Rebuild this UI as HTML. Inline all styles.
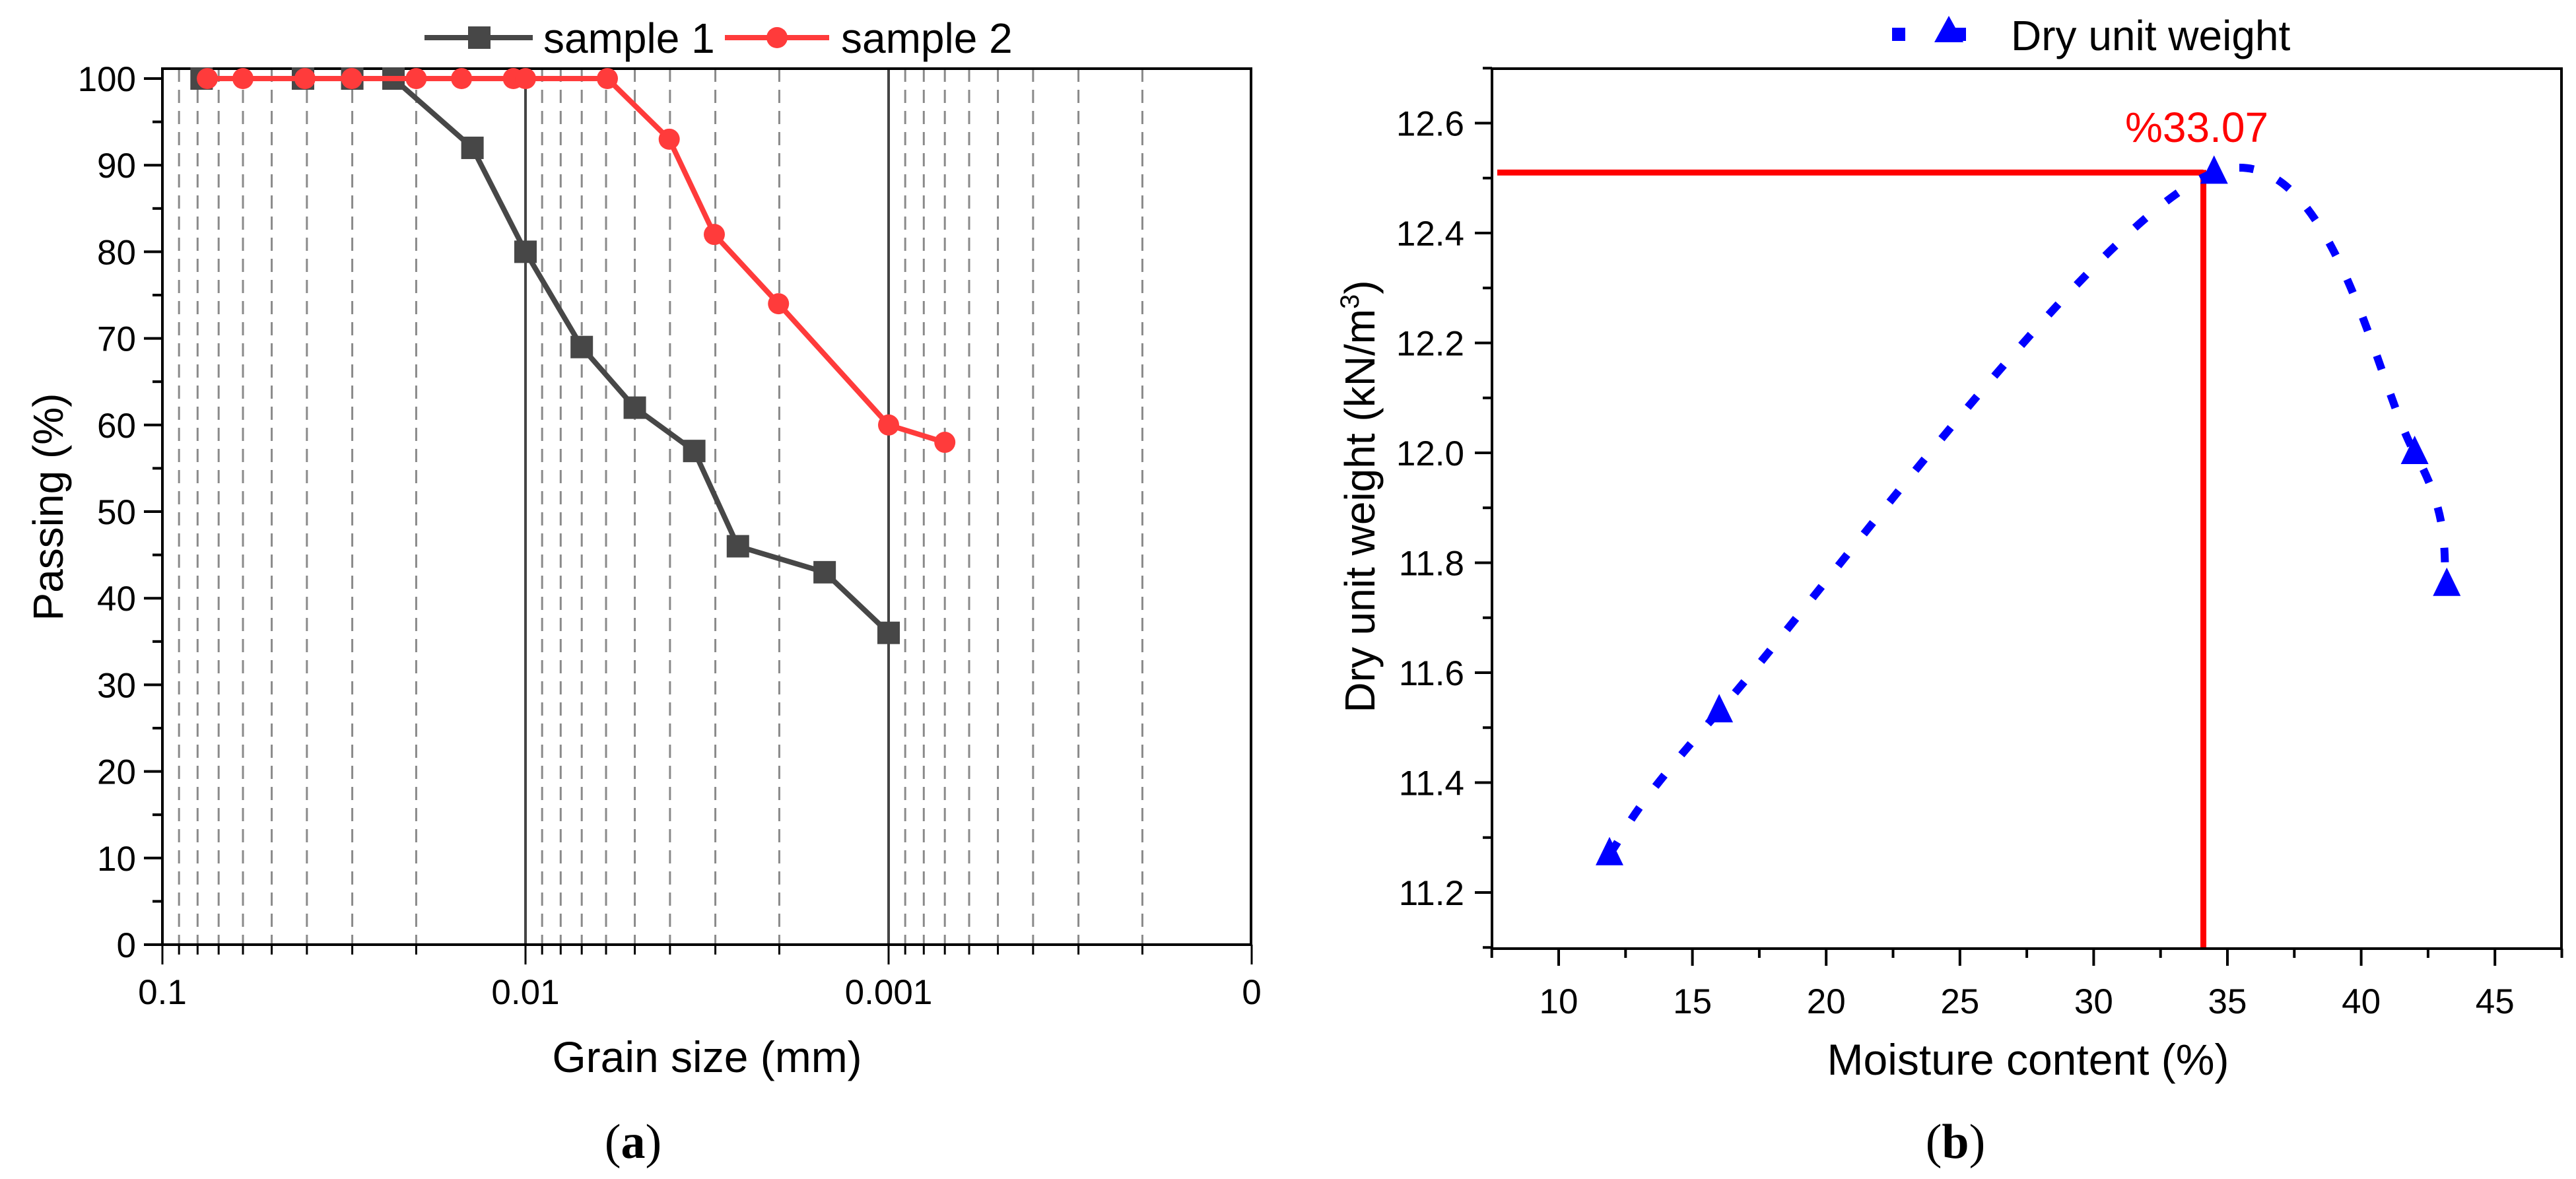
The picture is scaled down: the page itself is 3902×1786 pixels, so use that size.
<!DOCTYPE html>
<html><head><meta charset="utf-8"><style>
html,body{margin:0;padding:0;background:#fff;}
svg{display:block;font-family:"Liberation Sans",Arial,sans-serif;}
</style></head><body>
<svg id="fig" width="3902" height="1786" viewBox="0 0 3902 1786" xmlns="http://www.w3.org/2000/svg">
<g id="chartA"></g>
<g id="chartB"></g>
</svg>
<script>
// ---- Chart (a) data ----
const s1Size = [0.078, 0.041, 0.030, 0.0231, 0.014, 0.01, 0.007, 0.005, 0.00343, 0.0026, 0.0015, 0.001];
const s1Pass = [100, 100, 100, 100, 92, 80, 69, 62, 57, 46, 43, 36];
const s2Size = [0.0752, 0.06, 0.0405, 0.0301, 0.02, 0.015, 0.0108, 0.01, 0.00595, 0.00402, 0.00302, 0.00201, 0.001, 0.0007];
const s2Pass = [100, 100, 100, 100, 100, 100, 100, 100, 100, 93, 82, 74, 60, 58];
const aYTicks = [0, 10, 20, 30, 40, 50, 60, 70, 80, 90, 100];
const aXTicks = [0.1, 0.01, 0.001, 0.0001];
const aXLabels = ["0.1", "0.01", "0.001", "0"];
// ---- Chart (b) data ----
const moisture = [11.9, 16.0, 34.5, 42.0, 43.2];
const dryWeight = [11.27, 11.53, 12.51, 12.0, 11.76];
const bXTicks = [10, 15, 20, 25, 30, 35, 40, 45];
const bYTicks = [11.2, 11.4, 11.6, 11.8, 12.0, 12.2, 12.4, 12.6];
const optMoisture = [34.1];
const maxDry = [12.51];
const optLabel = ["%33.07"];

const NS = "http://www.w3.org/2000/svg";
function mk(parent, tag, attrs, text) {
  const e = document.createElementNS(NS, tag);
  for (const k in attrs) e.setAttribute(k, attrs[k]);
  if (text !== undefined) e.textContent = text;
  parent.appendChild(e);
  return e;
}

// ================= Chart (a) =================
const A = document.getElementById('chartA');
const aL = 246, aR = 1895, aT = 104, aB = 1431;
const xA = v => aL + 550 * Math.log10(0.1 / v);
const yA = p => aB - 13.12 * p;

for (let d = 0; d < 3; d++) {
  const base = 0.1 / Math.pow(10, d);
  for (let m = 9; m >= 2; m--) {
    const v = base * m / 10;
    const x = xA(v);
    const g = mk(A, 'line', {x1: x, x2: x, y1: aT, y2: aB, stroke: '#8a8a8a', 'stroke-width': 3, 'stroke-dasharray': '20 12'});
    
    
    const t = mk(A, 'line', {x1: x, x2: x, y1: aB, y2: aB + 15, stroke: '#000', 'stroke-width': 3});
    
    
  }
}
[0.01, 0.001].forEach(v => {
  const g = mk(A, 'line', {x1: xA(v), x2: xA(v), y1: aT, y2: aB, stroke: '#444', 'stroke-width': 4});
  
  
});
aYTicks.forEach(p => {
  const t = mk(A, 'line', {x1: aL - 28, x2: aL, y1: yA(p), y2: yA(p), stroke: '#000', 'stroke-width': 4});
  
  
  const l = mk(A, 'text', {x: aL - 40, y: yA(p) + 19, 'text-anchor': 'end', 'font-size': 53}, String(p));
  
  
  if (p < 100) {
    const m = mk(A, 'line', {x1: aL - 15, x2: aL, y1: yA(p + 5), y2: yA(p + 5), stroke: '#000', 'stroke-width': 4});
    
    
  }
});
aXTicks.forEach((v, i) => {
  const t = mk(A, 'line', {x1: xA(v), x2: xA(v), y1: aB, y2: aB + 30, stroke: '#000', 'stroke-width': 3});
  
  
  const l = mk(A, 'text', {x: xA(v), y: aB + 90, 'text-anchor': 'middle', 'font-size': 53}, aXLabels[i]);
  
  
});
const fa = mk(A, 'rect', {x: aL, y: aT, width: aR - aL, height: aB - aT, fill: 'none', stroke: '#000', 'stroke-width': 4});


const p1 = mk(A, 'polyline', {points: s1Size.map((v, i) => xA(v) + ',' + yA(s1Pass[i])).join(' '), fill: 'none', stroke: '#474747', 'stroke-width': 8});


s1Size.forEach((v, i) => {
  const r = mk(A, 'rect', {x: xA(v) - 17, y: yA(s1Pass[i]) - 17, width: 34, height: 34, fill: '#474747'});
  
  
});
const p2 = mk(A, 'polyline', {points: s2Size.map((v, i) => xA(v) + ',' + yA(s2Pass[i])).join(' '), fill: 'none', stroke: '#ff3b3b', 'stroke-width': 8});


s2Size.forEach((v, i) => {
  const c = mk(A, 'ellipse', {cx: xA(v), cy: yA(s2Pass[i]), rx: 16, ry: 16, fill: '#ff3b3b'});
  
  
});
const lg = mk(A, 'g', {});


mk(lg, 'line', {x1: 643, x2: 807, y1: 57, y2: 57, stroke: '#474747', 'stroke-width': 8});
mk(lg, 'rect', {x: 709, y: 40, width: 34, height: 34, fill: '#474747'});
const lt1 = mk(lg, 'text', {x: 823, y: 80, 'font-size': 64}, 'sample 1');


mk(lg, 'line', {x1: 1098, x2: 1256, y1: 57, y2: 57, stroke: '#ff3b3b', 'stroke-width': 8});
mk(lg, 'circle', {cx: 1177, cy: 57, r: 16, fill: '#ff3b3b'});
const lt2 = mk(lg, 'text', {x: 1274, y: 80, 'font-size': 64}, 'sample 2');


const ayt = mk(A, 'text', {x: 0, y: 0, 'font-size': 64, 'text-anchor': 'middle', transform: 'translate(95,768) rotate(-90)'}, 'Passing (%)');


const axt = mk(A, 'text', {x: 1071, y: 1624, 'font-size': 66, 'text-anchor': 'middle'}, 'Grain size (mm)');


const ca = mk(A, 'text', {x: 959, y: 1754, 'font-size': 74, 'text-anchor': 'middle', 'font-family': '"Liberation Serif", serif'}, '');


mk(ca, 'tspan', {}, '(');
mk(ca, 'tspan', {'font-weight': 'bold'}, 'a');
mk(ca, 'tspan', {}, ')');

// ================= Chart (b) =================
const B = document.getElementById('chartB');
const bL = 2260, bR = 3880, bT = 104, bB = 1437;
const xB = v => 2361 + (v - 10) * 40.52;
const yB = v => 1352 - (v - 11.2) * 832.5;

bYTicks.forEach(v => {
  const t = mk(B, 'line', {x1: bL - 26, x2: bL, y1: yB(v), y2: yB(v), stroke: '#000', 'stroke-width': 4});
  
  
  const m = mk(B, 'line', {x1: bL - 14, x2: bL, y1: yB(v - 0.1), y2: yB(v - 0.1), stroke: '#000', 'stroke-width': 4});
  
  
  const l = mk(B, 'text', {x: 2218, y: yB(v) + 19, 'text-anchor': 'end', 'font-size': 53}, v.toFixed(1));
  
  
});
const mtop = mk(B, 'line', {x1: bL - 14, x2: bL, y1: yB(12.7), y2: yB(12.7), stroke: '#000', 'stroke-width': 4});


bXTicks.forEach(v => {
  const t = mk(B, 'line', {x1: xB(v), x2: xB(v), y1: bB, y2: bB + 26, stroke: '#000', 'stroke-width': 4});
  
  
  const m = mk(B, 'line', {x1: xB(v - 2.5), x2: xB(v - 2.5), y1: bB, y2: bB + 14, stroke: '#000', 'stroke-width': 4});
  
  
  const l = mk(B, 'text', {x: xB(v), y: bB + 98, 'text-anchor': 'middle', 'font-size': 53}, String(v));
  
  
});
const mend = mk(B, 'line', {x1: xB(47.5), x2: xB(47.5), y1: bB, y2: bB + 14, stroke: '#000', 'stroke-width': 4});



const rh = mk(B, 'line', {x1: bL + 8, x2: xB(optMoisture[0]), y1: yB(maxDry[0]), y2: yB(maxDry[0]), stroke: '#ff0000', 'stroke-width': 9});


const rv = mk(B, 'line', {x1: xB(optMoisture[0]), x2: xB(optMoisture[0]), y1: yB(maxDry[0]) - 4, y2: bB, stroke: '#ff0000', 'stroke-width': 9});


const rl = mk(B, 'text', {x: xB(optMoisture[0]) - 10, y: 215, 'font-size': 64, fill: '#ff0000', 'text-anchor': 'middle'}, optLabel[0]);



const pts = moisture.map((v, i) => [xB(v), yB(dryWeight[i])]);
let d = 'M' + pts[0][0] + ',' + pts[0][1];
for (let i = 0; i < pts.length - 1; i++) {
  const p0 = pts[Math.max(0, i - 1)], p1 = pts[i], p2 = pts[i + 1], p3 = pts[Math.min(pts.length - 1, i + 2)];
  const c1 = [p1[0] + (p2[0] - p0[0]) / 6, p1[1] + (p2[1] - p0[1]) / 6];
  const c2 = [p2[0] - (p3[0] - p1[0]) / 6, p2[1] - (p3[1] - p1[1]) / 6];
  d += ' C' + c1.join(',') + ' ' + c2.join(',') + ' ' + p2.join(',');
}
const cv = mk(B, 'path', {d: d, fill: 'none', stroke: '#0000ff', 'stroke-width': 12, 'stroke-dasharray': '22 40'});


pts.forEach(p => {
  const t = mk(B, 'polygon', {points: (p[0]) + ',' + (p[1] - 26) + ' ' + (p[0] - 21) + ',' + (p[1] + 17) + ' ' + (p[0] + 21) + ',' + (p[1] + 17), fill: '#0000ff'});
  
  
});

const fb = mk(B, 'rect', {x: bL, y: bT, width: bR - bL, height: bB - bT, fill: 'none', stroke: '#000', 'stroke-width': 4});



const lb = mk(B, 'g', {});


mk(lb, 'rect', {x: 2866, y: 42, width: 20, height: 20, fill: '#0000ff'});
mk(lb, 'rect', {x: 2956, y: 42, width: 22, height: 20, fill: '#0000ff'});
mk(lb, 'polygon', {points: '2952,24 2930,64 2974,64', fill: '#0000ff'});
const lbt = mk(lb, 'text', {x: 3046, y: 76, 'font-size': 64}, 'Dry unit weight');



const byt = mk(B, 'text', {x: 0, y: 0, 'font-size': 64, 'text-anchor': 'middle', transform: 'translate(2082,752) rotate(-90)'}, '');


mk(byt, 'tspan', {}, 'Dry unit weight (kN/m');
mk(byt, 'tspan', {'font-size': 40, dy: -24}, '3');
mk(byt, 'tspan', {dy: 24}, ')');
const bxt = mk(B, 'text', {x: 3072, y: 1628, 'font-size': 66, 'text-anchor': 'middle'}, 'Moisture content (%)');


const cb = mk(B, 'text', {x: 2962, y: 1754, 'font-size': 74, 'text-anchor': 'middle', 'font-family': '"Liberation Serif", serif'}, '');


mk(cb, 'tspan', {}, '(');
mk(cb, 'tspan', {'font-weight': 'bold'}, 'b');
mk(cb, 'tspan', {}, ')');
</script>
</body></html>
